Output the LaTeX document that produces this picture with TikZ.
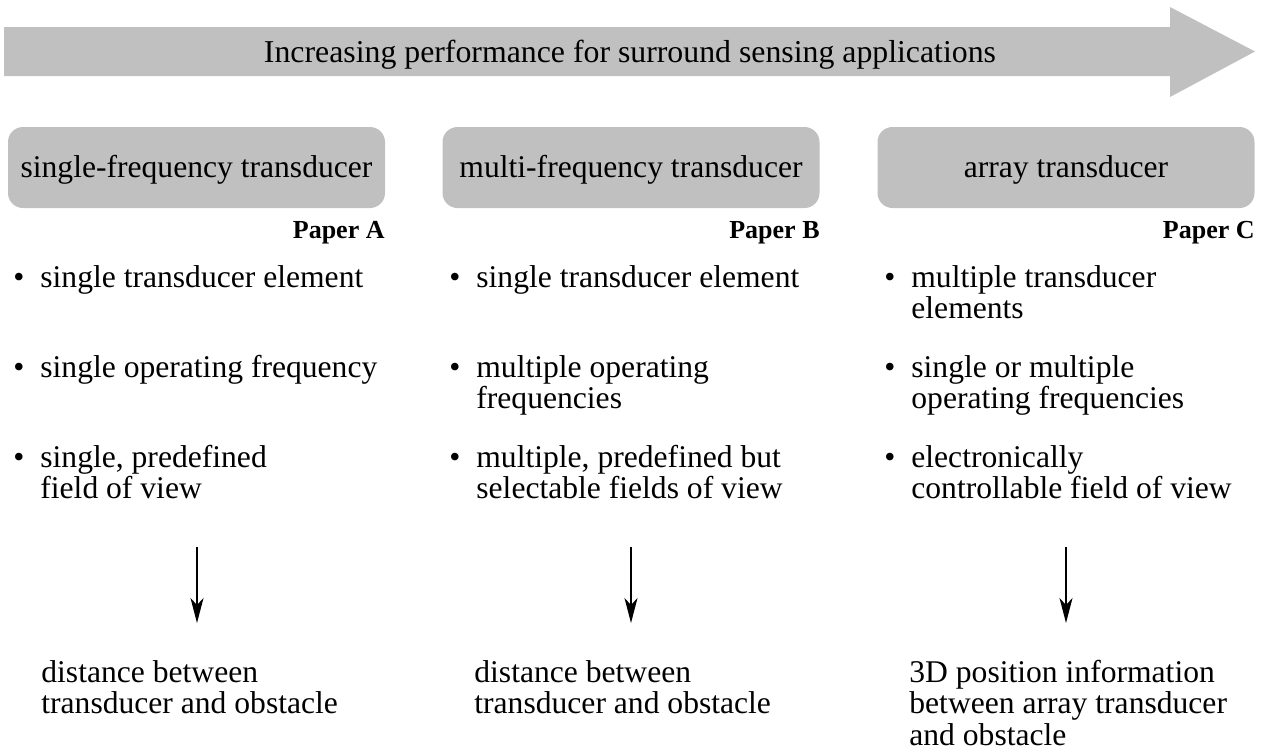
\documentclass[tikz,border=0pt]{standalone}
\usepackage{fontspec}
\setmainfont{Liberation Serif}
\usetikzlibrary{arrows.meta}
\definecolor{boxgray}{HTML}{C0C0C0}
\newcommand{\bulitem}[1]{\makebox[13.5pt][l]{\textbullet}\parbox[t]{190pt}{\raggedright #1}}
\newcommand{\plainlines}[1]{\parbox[t]{200pt}{\raggedright #1}}
\begin{document}
\begin{tikzpicture}[x={(0.5pt,0)}, y={(0,-0.5pt)},
  txt/.style={font=\fontsize{15.8pt}{15.75pt}\selectfont, inner sep=0pt, anchor=base west},
  paper/.style={font=\fontsize{13pt}{15pt}\selectfont\bfseries, inner sep=0pt, anchor=base east},
  cat/.style={fill=boxgray, rounded corners=7.5pt, minimum width=188.5pt, minimum height=40.5pt,
    text height=12pt, text depth=2.5pt, inner sep=0pt, font=\fontsize{15.8pt}{15.75pt}\selectfont},
  flow/.style={-{Stealth[length=12.5pt,width=6.5pt,inset=3.5pt]}, line width=0.75pt},
]
\useasboundingbox (0,0) rectangle (1267,751);

% big arrow
\fill[boxgray] (4,27) -- (1170,27) -- (1170,7) -- (1255,51.5) -- (1170,97) -- (1170,76) -- (4,76) -- cycle;
\node[font=\fontsize{15.9pt}{16pt}\selectfont, inner sep=0pt, anchor=base] (title) at (630,62)
  {Increasing performance for surround sensing applications};

% category boxes
\node[cat] (boxA) at (196.5,167.5) {single-frequency transducer};
\node[cat] (boxB) at (631,167.5) {multi-frequency transducer};
\node[cat] (boxC) at (1066,167.5) {array transducer};

% paper labels
\node[paper] (papA) at (385,238) {Paper A};
\node[paper] (papB) at (820,238) {Paper B};
\node[paper] (papC) at (1255,238) {Paper C};

% column 1
\node[txt] (a1) at (13,287) {\bulitem{single transducer element}};
\node[txt] (a2) at (13,377) {\bulitem{single operating frequency}};
\node[txt] (a3) at (13,467) {\bulitem{single, predefined\\field of view}};

% column 2
\node[txt] (b1) at (449,287) {\bulitem{single transducer element}};
\node[txt] (b2) at (449,377) {\bulitem{multiple operating\\frequencies}};
\node[txt] (b3) at (449,467) {\bulitem{multiple, predefined but\\selectable fields of view}};

% column 3
\node[txt] (c1) at (884,287) {\bulitem{multiple transducer\\elements}};
\node[txt] (c2) at (884,377) {\bulitem{single or multiple\\operating frequencies}};
\node[txt] (c3) at (884,467) {\bulitem{electronically\\controllable field of view}};

% results
\node[txt] (ra) at (41,682) {\plainlines{distance between\\transducer and obstacle}};
\node[txt] (rb) at (474,682) {\plainlines{distance between\\transducer and obstacle}};
\node[txt] (rc) at (909,682) {\plainlines{3D position information\\between array transducer\\and obstacle}};

% flow arrows
\coordinate (fa1) at (197,547); \coordinate (fa2) at (197,623);
\coordinate (fb1) at (631,547); \coordinate (fb2) at (631,623);
\coordinate (fc1) at (1066,547); \coordinate (fc2) at (1066,623);
\draw[flow] (fa1) -- (fa2);
\draw[flow] (fb1) -- (fb2);
\draw[flow] (fc1) -- (fc2);
\end{tikzpicture}
\end{document}
